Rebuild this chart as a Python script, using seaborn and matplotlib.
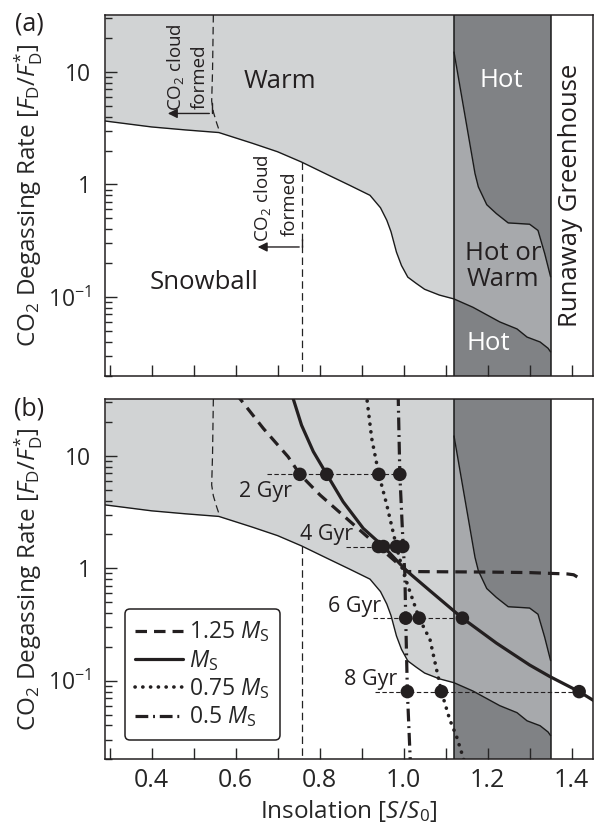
import numpy as np
import pandas as pd
import matplotlib
matplotlib.use("Agg")
import matplotlib.pyplot as plt
import seaborn as sns
from matplotlib.lines import Line2D

# ---------------- data ----------------
# boundary Snowball / Warm (and Hot-or-Warm / Hot inside the band)
bound_x = [0.289, 0.40, 0.48, 0.56, 0.64, 0.70, 0.757, 0.825, 0.872, 0.92, 0.945, 0.96, 0.97,
           0.983, 0.995, 1.01, 1.03, 1.05, 1.085, 1.12, 1.165, 1.229, 1.27, 1.294, 1.325, 1.344, 1.35]
bound_y = [3.66, 3.24, 3.05, 2.89, 2.32, 1.95, 1.58, 1.19, 0.98, 0.80, 0.62, 0.48, 0.38,
           0.25, 0.19, 0.15, 0.132, 0.117, 0.104, 0.096, 0.081, 0.060, 0.052, 0.044, 0.0398, 0.035, 0.0325]
# boundary Hot / Hot-or-Warm inside the band
hot_x = [1.12, 1.17, 1.178, 1.198, 1.221, 1.249, 1.30, 1.32, 1.336, 1.35]
hot_y = [15.0, 1.25, 0.95, 0.66, 0.55, 0.455, 0.443, 0.39, 0.243, 0.151]
band_left, band_right = 1.12, 1.35
# CO2-cloud limits (thin dashed)
cloudA_x = [0.547, 0.545, 0.543, 0.547, 0.555, 0.562]
cloudA_y = [32.0, 10.0, 5.5, 4.4, 3.5, 2.93]
cloudB_x = [0.757, 0.757]
cloudB_y = [1.58, 0.02]

# evolutionary tracks (panel b)
ms125_x = [0.600, 0.666, 0.725, 0.753, 0.801, 0.864, 0.94, 0.999, 1.01, 1.10, 1.20, 1.30, 1.35, 1.39, 1.405, 1.414]
ms125_y = [36, 17.5, 9.8, 6.84, 4.48, 2.78, 1.56, 1.0, 0.935, 0.93, 0.925, 0.915, 0.90, 0.89, 0.875, 0.835]
ms100_x = [0.733, 0.757, 0.785, 0.817, 0.856, 0.904, 0.952, 1.007, 1.063, 1.14, 1.221, 1.30, 1.348, 1.418, 1.46]
ms100_y = [36, 18.7, 10.9, 6.84, 3.9, 2.26, 1.56, 0.95, 0.63, 0.36, 0.216, 0.138, 0.109, 0.080, 0.064]
ms075_x = [0.911, 0.924, 0.941, 0.96, 0.983, 0.999, 1.015, 1.037, 1.063, 1.09, 1.11, 1.126, 1.145]
ms075_y = [36, 14.3, 6.84, 3.65, 1.56, 0.93, 0.62, 0.36, 0.231, 0.080, 0.045, 0.032, 0.019]
ms050_x = [0.987, 0.991, 0.999, 1.003, 1.005, 1.009, 1.016]
ms050_y = [36, 6.84, 1.56, 0.9, 0.36, 0.080, 0.019]

# ages
ages = ["2 Gyr", "4 Gyr", "6 Gyr", "8 Gyr"]
age_rate = [6.84, 1.56, 0.36, 0.080]
dot125 = [0.753, 0.94, np.nan, np.nan]
dot100 = [0.817, 0.952, 1.14, 1.418]
dot075 = [0.941, 0.983, 1.037, 1.09]
dot050 = [0.991, 0.998, 1.005, 1.009]
age_line_start = [0.674, 0.864, 0.928, 0.932]
age_label_x = [0.67, 0.817, 0.884, 0.922]
age_label_y = [4.33, 1.78, 0.412, 0.092]

legend_labels = ["1.25 $M_\\mathrm{S}$", "$M_\\mathrm{S}$", "0.75 $M_\\mathrm{S}$", "0.5 $M_\\mathrm{S}$"]
ytick_vals = [0.1, 1, 10]
ytick_labels = ["10$^{-1}$", "1", "10"]
xtick_vals = [0.4, 0.6, 0.8, 1.0, 1.2, 1.4]
xtick_labels = ["0.4", "0.6", "0.8", "1.0", "1.2", "1.4"]

# ---------------- style ----------------
sns.set_theme(style="ticks")
plt.rcParams["font.family"] = ["Open Sans", "DejaVu Sans"]
plt.rcParams["mathtext.fontset"] = "custom"
plt.rcParams["mathtext.rm"] = "Open Sans"
plt.rcParams["mathtext.it"] = "Open Sans:italic"
plt.rcParams["mathtext.bf"] = "Open Sans:bold"
plt.rcParams["axes.unicode_minus"] = False

INK = "#231f20"
LIGHT = "#d1d3d4"
MED = "#a7a9ac"
DARK = "#808285"
XLIM = (0.289, 1.451)
YLIM = (0.02, 32)
YLABEL = "CO$_2$ Degassing Rate [$F_\\mathrm{D}$/$F_\\mathrm{D}^{*}$]"

fig = plt.figure(figsize=(5.99, 8.25), dpi=100)
ax1 = fig.add_axes([0.1753, 0.5447, 0.8147, 0.4371])
ax2 = fig.add_axes([0.1753, 0.0796, 0.8147, 0.4368])

def logint(xq, xs, ys):
    return 10 ** np.interp(xq, xs, np.log10(ys))

def background(ax):
    ax.set_yscale("log")
    ax.set_xlim(*XLIM)
    ax.set_ylim(*YLIM)
    xl = np.linspace(XLIM[0], band_left, 300)
    ax.fill_between(xl, logint(xl, bound_x, bound_y), YLIM[1], color=LIGHT, lw=0, zorder=0)
    ax.axvspan(band_left, band_right, color=DARK, lw=0, zorder=0)
    xb = np.linspace(band_left, band_right, 300)
    ax.fill_between(xb, logint(xb, bound_x, bound_y), logint(xb, hot_x, hot_y), color=MED, lw=0, zorder=0.5)
    df = pd.DataFrame({"x": bound_x, "y": bound_y})
    sns.lineplot(data=df, x="x", y="y", ax=ax, color="k", lw=1.0, sort=False, estimator=None, zorder=1)
    dh = pd.DataFrame({"x": hot_x, "y": hot_y})
    sns.lineplot(data=dh, x="x", y="y", ax=ax, color="k", lw=1.0, sort=False, estimator=None, zorder=1)
    for xv in (band_left, band_right):
        ax.axvline(xv, color="k", lw=1.1, zorder=1.5)
    for cx, cy in ((cloudA_x, cloudA_y), (cloudB_x, cloudB_y)):
        ax.plot(cx, cy, color="#222222", lw=0.9, dashes=(6, 3.5), zorder=1.2)
    ax.set_ylabel(YLABEL, fontsize=17.5)
    ax.yaxis.set_label_coords(-0.122, 0.5)
    ax.set_yticks(ytick_vals)
    ax.set_yticklabels(ytick_labels)
    minors = [m * d for d in (0.01, 0.1, 1, 10) for m in range(2, 10) if YLIM[0] <= m * d <= YLIM[1]]
    ax.set_yticks(minors, minor=True)
    ax.set_yticklabels([], minor=True)
    ax.set_xticks(xtick_vals)
    ax.set_xticks([0.3, 0.5, 0.7, 0.9, 1.1, 1.3], minor=True)
    ax.tick_params(axis="y", which="major", direction="in", length=8.4, width=1.0, labelsize=16.5, pad=10,
                   right=False, left=True)
    ax.tick_params(axis="y", which="minor", direction="in", length=4.8, width=1.0, right=False, left=True)
    ax.tick_params(axis="x", which="both", direction="in", length=7.7, width=1.0, labelsize=18, pad=6,
                   top=False, bottom=True)
    for s in ax.spines.values():
        s.set_linewidth(1.1)
        s.set_color(INK)
        s.set_zorder(5)
    ax.set_xlabel("")

background(ax1)
background(ax2)
ax1.set_xticklabels([])
ax2.set_xticklabels(xtick_labels)

# ---- panel (a) labels ----
txt = dict(color=INK, ha="center", va="center")
ax1.text(0.706, 8.15, "Warm", fontsize=18.5, **txt)
ax1.text(0.525, 0.135, "Snowball", fontsize=18.5, **txt)
ax1.text(1.233, 8.44, "Hot", fontsize=18.5, color="white", ha="center", va="center")
ax1.text(1.237, 0.185, "Hot or\nWarm", fontsize=18.5, linespacing=1.05, **txt)
ax1.text(1.201, 0.0385, "Hot", fontsize=18.5, color="white", ha="center", va="center")
ax1.text(1.398, 0.80, "Runaway Greenhouse", fontsize=18.5, rotation=90, **txt)

# CO2 cloud annotations
ax1.text(0.456, 11.0, "CO$_2$ cloud", fontsize=13.5, rotation=90, **txt)
ax1.text(0.515, 9.06, "formed", fontsize=13.5, rotation=90, **txt)
ax1.plot([0.543, 0.543], [5.27, 4.27], color=INK, lw=1.0)
ax1.annotate("", xy=(0.432, 4.27), xytext=(0.544, 4.27),
             arrowprops=dict(arrowstyle="-|>", color=INK, lw=1.0, mutation_scale=14))
ax1.text(0.665, 0.753, "CO$_2$ cloud", fontsize=13.5, rotation=90, **txt)
ax1.text(0.729, 0.667, "formed", fontsize=13.5, rotation=90, **txt)
ax1.plot([0.757, 0.757], [0.33, 0.278], color=INK, lw=1.0)
ax1.annotate("", xy=(0.646, 0.278), xytext=(0.758, 0.278),
             arrowprops=dict(arrowstyle="-|>", color=INK, lw=1.0, mutation_scale=14))

fig.text(29 / 599, 1 - 24 / 825, "(a)", fontsize=18, ha="center", va="center", color=INK)
fig.text(29 / 599, 1 - 409 / 825, "(b)", fontsize=18, ha="center", va="center", color=INK)

# ---- panel (b) tracks ----
tracks = [
    (ms125_x, ms125_y, dict(lw=2.3, dashes=(3.6, 2.2))),
    (ms100_x, ms100_y, dict(lw=2.3)),
    (ms075_x, ms075_y, dict(lw=2.6, dashes=(0.05, 2.1), dash_capstyle="round")),
    (ms050_x, ms050_y, dict(lw=2.3, dashes=(4.0, 1.5, 0.6, 1.5))),
]
handles = []
for (tx, ty, kw), lab in zip(tracks, legend_labels):
    d = pd.DataFrame({"x": tx, "y": ty})
    sns.lineplot(data=d, x="x", y="y", ax=ax2, color=INK, sort=False, estimator=None, zorder=3, **kw)
    handles.append(Line2D([], [], color=INK, **kw))

# age rows
for i, lab in enumerate(ages):
    row = [v for v in (dot125[i], dot100[i], dot075[i], dot050[i]) if not np.isnan(v)]
    ax2.plot([age_line_start[i], max(row)], [age_rate[i], age_rate[i]], color=INK,
             lw=0.8, dashes=(4, 2.2), zorder=2)
    ax2.text(age_label_x[i], age_label_y[i], lab, fontsize=15.5, ha="center", va="baseline", color=INK)

dots = pd.DataFrame({
    "x": dot125 + dot100 + dot075 + dot050,
    "y": age_rate * 4,
}).dropna()
sns.scatterplot(data=dots, x="x", y="y", ax=ax2, color=INK, s=95, edgecolor="none", zorder=4)
ax2.set_xlabel("Insolation [$S$/$S_0$]", fontsize=17.5, labelpad=4)
ax2.set_ylabel(YLABEL, fontsize=17.5)
ax2.yaxis.set_label_coords(-0.122, 0.5)

leg = ax2.legend(handles, legend_labels, loc="lower left", bbox_to_anchor=(0.041, 0.054),
                 fontsize=16.5, frameon=True, fancybox=True, edgecolor=INK, facecolor="white",
                 framealpha=1, handlelength=2.1, handletextpad=0.25, labelspacing=0.15,
                 borderpad=0.45, borderaxespad=0)
leg.get_frame().set_linewidth(1.1)
leg.set_zorder(6)

fig.savefig("out.png", dpi=100)
